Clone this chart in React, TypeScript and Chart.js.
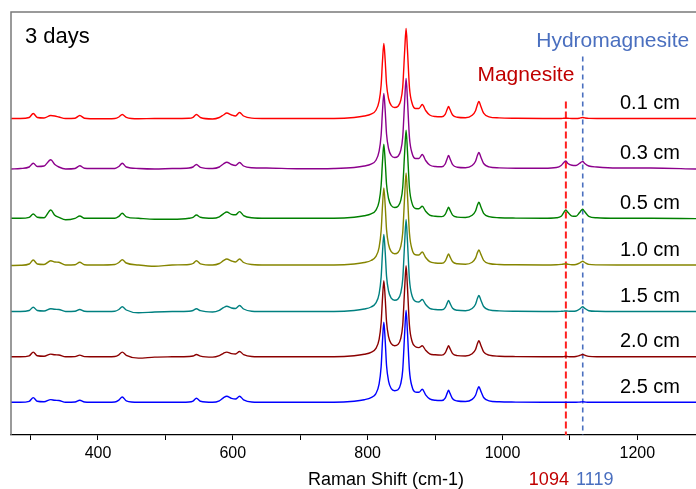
import { useEffect, useRef } from 'react';
import { Chart, registerables } from 'chart.js';

Chart.register(...registerables);

// Raman shift sample positions (cm-1), shared by every spectrum
const wavenumbers = [
  271, 285, 298, 304, 310, 320, 330, 336, 342, 352,
  366, 373, 380, 400, 425, 431, 436, 442, 460, 484,
  510, 535, 541, 546, 552, 570, 580, 586, 591, 598,
  604, 610, 616, 628, 650, 700, 750, 780, 795, 805,
  812, 817, 820, 822, 824, 826, 828, 831, 835, 840,
  845, 849, 852, 855, 857, 859, 862, 866, 871, 876,
  881, 886, 892, 900, 910, 915, 918, 920, 922, 926,
  933, 945, 955, 960, 963, 965, 968, 972, 980, 995,
  1020, 1060, 1080, 1087, 1091, 1094, 1097, 1103, 1109, 1114,
  1117, 1119, 1122, 1128, 1140, 1170, 1220, 1287,
];

// intensities above each spectrum's own baseline (arbitrary units)
const depth01 = [
  0, 0, 1, 5, 1, 0.5, 3, 2.5, 1.5, 0,
  0.3, 3, 0.3, -0.3, 0, 1.5, 4, 1.2, -0.3, 0,
  0, 0.2, 1.2, 4, 1, -0.5, 1, 3.5, 5.5, 3.5,
  2.5, 6, 2.5, 0.4, 0, 0, 0, 1, 2.5, 4.4,
  8, 17.3, 33.5, 57.5, 75, 58, 34.5, 20, 13, 11,
  12.3, 18, 31.5, 69, 90, 69, 31, 15, 10, 10,
  14, 8, 3.5, 2, 1.8, 4.2, 9.2, 12, 9.2, 3.5,
  1.3, 0.8, 3.2, 7.8, 14.3, 17, 12, 5.3, 1.7, 0.6,
  0.2, 0, 0, 0, 0.2, 0.3, 0.2, 0, 0, 0.3,
  0.8, 1, 0.6, 0.1, 0, 0, 0, 0,
];
const depth03 = [
  -0.5, 0, 1.5, 5.3, 2, 2.5, 8.7, 4, 1.5, -0.5,
  0, 2.7, 0.3, 0, 0, 2, 5.3, 1.5, 0, -0.5,
  0, 0.5, 1.5, 4, 1.2, 0, 1.5, 4.5, 6.3, 4,
  3, 6, 2.5, 0.8, 0.5, -0.3, 0, 1, 2.5, 4.4,
  8, 17.3, 33.5, 57.5, 75, 58, 34.5, 20, 13, 11,
  12.3, 18, 31.5, 69, 90, 69, 31, 15, 10, 10,
  14, 8, 3.5, 2, 1.8, 4.5, 10, 13, 10, 3.8,
  1.3, 0.8, 3, 7.3, 13.5, 16, 11.3, 5, 1.6, 0.6,
  0.2, 0.3, 1, 3, 6, 7.5, 5, 3.2, 3, 5,
  6.5, 7, 5, 2.5, 1.5, 0.5, 0.5, -0.5,
];
const depth05 = [
  0, 0, 1, 4.3, 1, 0.5, 8.3, 3, 1, -1.5,
  0, 2.3, 0, 0, 0, 2, 5, 1.5, 0, -1,
  -1, 0, 1, 3.3, 1, 0, 1.5, 4.5, 6.3, 4,
  3.5, 6.7, 2.7, 0.5, 0, 0, 0, 1, 2.5, 4.4,
  8, 17, 33, 56.7, 74, 57, 34, 19.8, 12.8, 10.8,
  12.1, 17.6, 30.8, 67.5, 88, 67.5, 30.3, 14.7, 9.8, 9.5,
  12, 7, 3.2, 2, 1.7, 3.9, 8.4, 11, 8.4, 3.2,
  1.2, 0.8, 3, 7.3, 13.5, 16, 11.3, 5, 1.6, 0.6,
  0.2, 0, 0.5, 2, 6, 8.3, 6, 2.2, 2, 5.5,
  8, 9, 6.5, 2, 0.5, 0, 0, -0.3,
];
const depth10 = [
  -0.5, -0.3, 1, 5, 1, 0.5, 4.3, 3, 2.7, 0,
  0.3, 2.7, 0.3, 0, 0.5, 2.5, 5.3, 2, 0, -1.3,
  0, 0.5, 1.5, 4.3, 1.2, 0, 1.5, 4.3, 6, 4,
  3, 6, 2.5, 0.5, 0, 0, 0, 1, 2.5, 4.5,
  8.3, 17.7, 34.4, 59, 77, 59.6, 35.4, 20.5, 13.3, 11.2,
  12.5, 18.4, 32.2, 70.5, 92, 70.5, 31.7, 15.3, 10.2, 10,
  13, 7.5, 3.4, 2, 1.7, 3.9, 8.4, 11, 8.4, 3.2,
  1.2, 0.8, 2.8, 6.9, 12.6, 15, 10.6, 4.7, 1.5, 0.5,
  0.2, 0, 0.2, 0.6, 1, 1.2, 0.8, 0.3, 0.5, 1.8,
  3.2, 3.7, 2.5, 0.6, 0.1, 0, 0, 0,
];
const depth15 = [
  0, 0, 1, 4.3, 1, 0.5, 2.7, 2.2, 2, 0,
  0.3, 2, 0.3, 0, 0.3, 2, 4.7, 1.5, -1.3, -0.5,
  0, 0.3, 1, 2.7, 0.8, -0.5, 1.2, 3.8, 5.3, 3.5,
  3, 6, 2.5, 0.3, 0, 0, 0, 1, 2.5, 4.5,
  8.3, 17.7, 34.4, 59, 77, 59.6, 35.4, 20.5, 13.3, 11.2,
  12.5, 18.4, 32.2, 70.5, 92, 70.5, 31.7, 15.3, 10.2, 9.5,
  12, 7, 3.2, 2, 1.7, 3.9, 8.4, 11, 8.4, 3.2,
  1.2, 0.8, 3, 7.3, 13.5, 16, 11.3, 5, 1.6, 0.6,
  0.2, 0, 0, 0.2, 0.4, 0.5, 0.4, 0.2, 0.5, 2.2,
  4, 4.7, 3.2, 0.8, 0.2, 0, 0, 0,
];
const depth20 = [
  0, 0, 1, 4.7, 1, 0.5, 2.7, 2, 1.8, 0,
  0.2, 1.7, 0.2, 0, 0.3, 2, 4.7, 1.5, -1.3, -0.3,
  0, 0.3, 0.8, 2.3, 0.7, -0.3, 1.2, 3.5, 4.7, 3.2,
  2.8, 5.3, 2.2, 0.3, 0, 0, 0, 1, 2.5, 4.4,
  8.2, 17.5, 34, 58.2, 76, 58.8, 35, 20.2, 13.1, 11.1,
  12.4, 18.2, 31.8, 69.8, 91, 69.8, 31.3, 15.1, 10.1, 9.2,
  11, 6.5, 3, 2, 1.7, 3.9, 8.4, 11, 8.4, 3.2,
  1.2, 0.8, 3, 7.3, 13.5, 16, 11.3, 5, 1.6, 0.6,
  0.2, 0, 0, 0, 0.2, 0.3, 0.2, 0, 0.3, 1.2,
  2, 2.3, 1.6, 0.4, 0, 0, 0, 0,
];
const depth25 = [
  0, 0, 1, 4.7, 1, 0.5, 2.7, 2, 1.8, 0,
  0.3, 2, 0.3, 0, 0.3, 2.2, 5.3, 1.5, 0, 0,
  0, 0.3, 1.2, 4, 1, 0, 1.5, 4.5, 6, 4,
  3.3, 6, 2.5, 0.3, 0, 0, 0, 1.1, 2.6, 4.6,
  8.5, 18.4, 35.7, 61.3, 80, 61.9, 36.8, 21.2, 13.7, 11.6,
  12.5, 18.4, 32.2, 70.5, 92, 70.5, 31.7, 15.3, 10.2, 10,
  13, 7.5, 3.4, 2, 1.8, 4.2, 9.2, 12, 9.2, 3.5,
  1.3, 0.8, 2.9, 7.1, 13, 15.5, 10.9, 4.8, 1.5, 0.5,
  0.2, 0, 0, 0, 0, 0.1, 0, 0, 0, 0.2,
  0.4, 0.5, 0.3, 0, 0, 0, 0, 0,
];

const depthLabels = ['0.1 cm', '0.3 cm', '0.5 cm', '1.0 cm', '1.5 cm', '2.0 cm', '2.5 cm'];
const stackOffsets = [316.5, 266.5, 216.7, 170, 123.5, 78.2, 32.7];
const seriesColors = ['#ff0000', '#8c008c', '#008000', '#858500', '#008080', '#8b0000', '#0000ff'];

const xMin = 271;
const xMax = 1287;
const yMax = 423;
const xTickStep = 100;

const magnesitePeak = 1094;
const hydromagnesitePeak = 1119;
const magnesiteText = 'Magnesite';
const hydromagnesiteText = 'Hydromagnesite';
const panelTitle = '3 days';
const xAxisTitle = 'Raman Shift (cm-1)';

const FONT = "'Liberation Sans', Arial, sans-serif";
const MAG_COLOR = '#c00000';
const HYD_COLOR = '#4a6fbf';

export default function App() {
  const ref = useRef<HTMLCanvasElement>(null);

  useEffect(() => {
    const canvas = ref.current;
    if (!canvas) return;
    const series = [depth01, depth03, depth05, depth10, depth15, depth20, depth25];

    const datasets = series.map((vals, i) => ({
      label: depthLabels[i],
      data: wavenumbers.map((w, j) => ({ x: w, y: vals[j] + stackOffsets[i] })),
      borderColor: seriesColors[i],
      backgroundColor: seriesColors[i],
      borderWidth: 1.4,
      pointRadius: 0,
      cubicInterpolationMode: 'monotone' as const,
      fill: false,
    }));

    const annotations = {
      id: 'annotations',
      beforeDatasetsDraw(chart: any) {
        const { ctx, chartArea, scales } = chart;
        const xs = scales.x;
        const ys = scales.y;
        ctx.save();
        const xr = xs.getPixelForValue(magnesitePeak);
        ctx.strokeStyle = '#ff2020';
        ctx.lineWidth = 2;
        ctx.setLineDash([7, 3]);
        ctx.beginPath();
        ctx.moveTo(xr, ys.getPixelForValue(stackOffsets[0] + 17));
        ctx.lineTo(xr, chartArea.bottom);
        ctx.stroke();
        const xb = xs.getPixelForValue(hydromagnesitePeak);
        ctx.strokeStyle = HYD_COLOR;
        ctx.lineWidth = 1.6;
        ctx.setLineDash([5, 4]);
        ctx.beginPath();
        ctx.moveTo(xb, ys.getPixelForValue(stackOffsets[0] + 62));
        ctx.lineTo(xb, chartArea.bottom);
        ctx.stroke();
        ctx.restore();
      },
      afterDraw(chart: any) {
        const { ctx, chartArea, scales } = chart;
        const xs = scales.x;
        const ys = scales.y;
        ctx.save();
        ctx.strokeStyle = '#7a7a7a';
        ctx.lineWidth = 1.5;
        ctx.beginPath();
        ctx.moveTo(chartArea.left, chartArea.bottom);
        ctx.lineTo(chartArea.left, chartArea.top);
        ctx.lineTo(chartArea.right + 2, chartArea.top);
        ctx.stroke();

        ctx.textBaseline = 'middle';
        ctx.fillStyle = '#000';
        ctx.textAlign = 'left';
        ctx.font = `22px ${FONT}`;
        ctx.fillText(panelTitle, chartArea.left + 14, 37);

        ctx.font = `20px ${FONT}`;
        ctx.textAlign = 'center';
        depthLabels.forEach((lab, i) => {
          const y = ys.getPixelForValue(stackOffsets[i]) - 15;
          ctx.fillText(lab, chartArea.right - 46, y);
        });

        const xr = xs.getPixelForValue(magnesitePeak);
        const xb = xs.getPixelForValue(hydromagnesitePeak);
        ctx.font = `21px ${FONT}`;
        ctx.fillStyle = MAG_COLOR;
        ctx.fillText(magnesiteText, xr - 40, 75);
        ctx.fillStyle = HYD_COLOR;
        ctx.fillText(hydromagnesiteText, xb + 30, 41);

        ctx.font = `18px ${FONT}`;
        ctx.fillStyle = MAG_COLOR;
        ctx.fillText(String(magnesitePeak), xr - 17, 480);
        ctx.fillStyle = HYD_COLOR;
        ctx.fillText(String(hydromagnesitePeak), xb + 12, 480);

        ctx.fillStyle = '#000';
        ctx.fillText(xAxisTitle, 386, 480);
        ctx.restore();
      },
    };

    const chart = new Chart(canvas, {
      type: 'line',
      data: { datasets },
      options: {
        responsive: false,
        devicePixelRatio: 1,
        animation: false,
        layout: { padding: { left: 11, right: 0, top: 12, bottom: 0 } },
        plugins: { legend: { display: false }, tooltip: { enabled: false } },
        scales: {
          x: {
            type: 'linear',
            min: xMin,
            max: xMax,
            afterFit: (s: any) => {
              s.height = 54;
            },
            ticks: {
              stepSize: xTickStep,
              includeBounds: false,
              autoSkip: false,
              maxRotation: 0,
              minRotation: 0,
              padding: 4,
              color: '#000',
              font: { family: FONT, size: 16 },
              callback: (v: any) => (Number(v) % 200 === 0 ? String(v) : ''),
            },
            grid: {
              drawOnChartArea: false,
              drawTicks: true,
              tickLength: 5,
              color: '#000',
              lineWidth: 1,
            },
            border: { display: true, color: '#000', width: 1.3 },
          },
          y: {
            type: 'linear',
            display: false,
            min: 0,
            max: yMax,
          },
        },
      },
      plugins: [annotations],
    });
    return () => chart.destroy();
  }, []);

  return (
    <div style={{ position: 'fixed', left: 0, top: 0, width: 696, height: 489, background: '#fff' }}>
      <canvas ref={ref} width={696} height={489} style={{ display: 'block', width: 696, height: 489 }} />
    </div>
  );
}
